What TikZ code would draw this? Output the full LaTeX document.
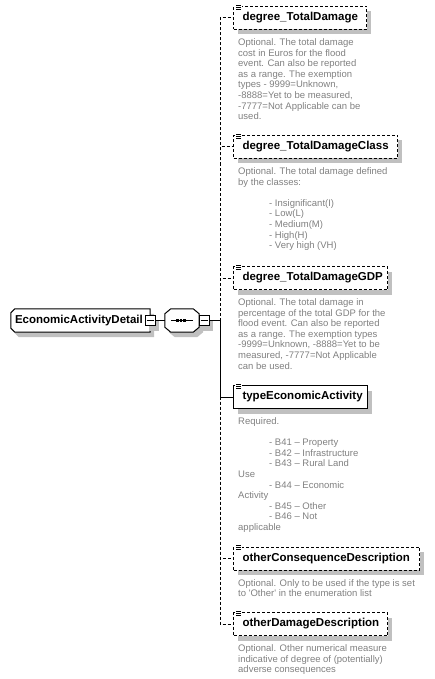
\documentclass[tikz,border=0pt]{standalone}
\usepackage{fontspec}
\setmainfont{Liberation Sans}[Ligatures=TeXOff]
\usetikzlibrary{shadows,backgrounds,calc}
\definecolor{shadowgray}{HTML}{C0C0C0}
\definecolor{descgray}{HTML}{808080}
\begin{document}
\begin{tikzpicture}[x=1pt,y=-1pt,
  tshadow/.style={general shadow={fill=shadowgray,shadow xshift=4pt,shadow yshift=-5pt}},
  titlefont/.style={font=\bfseries\fontsize{11.5}{13}\selectfont},
  childbox/.style={draw=black,line width=1pt,fill=white,tshadow,anchor=north west,
    minimum height=23pt,inner xsep=9pt,inner ysep=0pt,align=left,titlefont},
  optbox/.style={childbox,dash pattern=on 3pt off 2pt},
  desc/.style={anchor=base west,inner sep=0pt,text=descgray,
    font=\fontsize{9.5}{10.6}\selectfont},
  conn/.style={line width=1pt},
  optconn/.style={conn,dash pattern=on 3pt off 2pt},
  minusbox/.style={draw=black,line width=1pt,fill=white,tshadow,minimum size=10pt,inner sep=0pt},
  shapeline/.style={draw=black,line width=1pt,fill=white},
  icon/.style={line width=0.9pt}
]
\useasboundingbox (0,0) rectangle (434,679);
\newcommand{\ind}{\hspace*{31pt}}
\newcommand{\desctext}[1]{\begin{tabular}[t]{@{}l@{}}#1\end{tabular}}

% root element
\node[inner xsep=4pt,inner ysep=0pt,text width=131pt,minimum height=23pt,align=left,titlefont] (root) at (80.5,320.5) {EconomicActivityDetail};
% sequence compositor holder
\node[inner sep=0pt,minimum width=34pt,minimum height=23pt] (seq) at (182,320.5) {};

\begin{scope}[on background layer]
  \fill[shadowgray] ($(root.north west)+(4,9)$) -- ($(root.north west)+(8,5)$) -- ($(root.north east)+(4,5)$) -- ($(root.south east)+(4,5)$) -- ($(root.south west)+(8,5)$) -- ($(root.south west)+(4,1)$) -- cycle;
  \path[shapeline] ($(root.north west)+(0,4)$) -- ($(root.north west)+(4,0)$) -- (root.north east) -- (root.south east) -- ($(root.south west)+(4,0)$) -- ($(root.south west)+(0,-4)$) -- cycle;
  \fill[shadowgray] ($(seq.north west)+(4,10)$) -- ($(seq.north west)+(10,5)$) -- ($(seq.north east)+(-2,5)$) -- ($(seq.north east)+(4,10)$) -- ($(seq.south east)+(4,0)$) -- ($(seq.south east)+(-2,5)$) -- ($(seq.south west)+(10,5)$) -- ($(seq.south west)+(4,0)$) -- cycle;
  \path[shapeline] ($(seq.north west)+(0,5)$) -- ($(seq.north west)+(6,0)$) -- ($(seq.north east)+(-6,0)$) -- ($(seq.north east)+(0,5)$) -- ($(seq.south east)+(0,-5)$) -- ($(seq.south east)+(-6,0)$) -- ($(seq.south west)+(6,0)$) -- ($(seq.south west)+(0,-5)$) -- cycle;
\end{scope}

% sequence symbol
\draw[line width=1pt] ($(seq.west)+(6,0)$) -- ($(seq.east)+(-6,0)$);
\foreach \dx in {-4.5,-1,2.5} {
  \fill[black] ($(seq.center)+(\dx-1.2,-1.5)$) rectangle ($(seq.center)+(\dx+1.2,1.5)$);
}

% minus boxes
\node[minusbox] (m1) at (150,320.5) {};
\node[minusbox] (m2) at (204,320.5) {};
\draw[line width=1pt] ($(m1.west)+(2,0)$) -- ($(m1.east)+(-2,0)$);
\draw[line width=1pt] ($(m2.west)+(2,0)$) -- ($(m2.east)+(-2,0)$);

% children
\node[optbox,text width=115pt] (c1) at (233,6) {degree\_TotalDamage};
\node[optbox,text width=146pt] (c2) at (233,135) {degree\_TotalDamageClass};
\node[optbox,text width=136pt] (c3) at (233,266) {degree\_TotalDamageGDP};
\node[childbox,text width=116pt] (c4) at (233,385) {typeEconomicActivity};
\node[optbox,text width=168pt] (c5) at (233,546.5) {otherConsequenceDescription};
\node[optbox,text width=136pt] (c6) at (233,612) {otherDamageDescription};

% icons
\foreach \c in {c1,c2,c3,c4,c5,c6} {
  \fill[white] ($(\c.north west)+(2,-1.5)$) rectangle ($(\c.north west)+(8.5,3.5)$);
  \foreach \dy in {-1,1,3} {
    \draw[icon] ($(\c.north west)+(3,\dy)$) -- ($(\c.north west)+(8,\dy)$);
  }
}

% connectors
\coordinate (jn) at (220,320.5);
\coordinate (j4) at (220,396.5);
\draw[conn] (m1.east) -- (seq.west);
\draw[conn] (seq.east) -- (m2.west);
\draw[conn] (m2.east) -- (jn);
\draw[optconn] (jn) |- (c1.west);
\draw[optconn] (jn) |- (c2.west);
\draw[optconn] (jn) |- (c3.west);
\draw[conn] (jn) |- (c4.west);
\draw[optconn] (j4) |- (c5.west);
\draw[optconn] (j4) |- (c6.west);

% descriptions
\node[desc] (d1) at (238,45.5) {\desctext{Optional. The total damage\\cost in Euros for the flood\\event. Can also be reported\\as a range. The exemption\\types - 9999=Unknown,\\-8888=Yet to be measured,\\-7777=Not Applicable can be\\used.}};
\node[desc] (d2) at (238,174.5) {\desctext{Optional. The total damage defined\\by the classes:\\ \\\ind - Insignificant(I)\\\ind - Low(L)\\\ind - Medium(M)\\\ind - High(H)\\\ind - Very high (VH)}};
\node[desc] (d3) at (238,305.5) {\desctext{Optional. The total damage in\\percentage of the total GDP for the\\flood event. Can also be reported\\as a range. The exemption types\\-9999=Unknown, -8888=Yet to be\\measured, -7777=Not Applicable\\can be used.}};
\node[desc] (d4) at (238,424.5) {\desctext{Required.\\ \\\ind - B41 – Property\\\ind - B42 – Infrastructure\\\ind - B43 – Rural Land\\Use\\\ind - B44 – Economic\\Activity\\\ind - B45 – Other\\\ind - B46 – Not\\applicable}};
\node[desc] (d5) at (238,586) {\desctext{Optional. Only to be used if the type is set\\to 'Other' in the enumeration list}};
\node[desc] (d6) at (238,651.5) {\desctext{Optional. Other numerical measure\\indicative of degree of (potentially)\\adverse consequences}};
\end{tikzpicture}
\end{document}
